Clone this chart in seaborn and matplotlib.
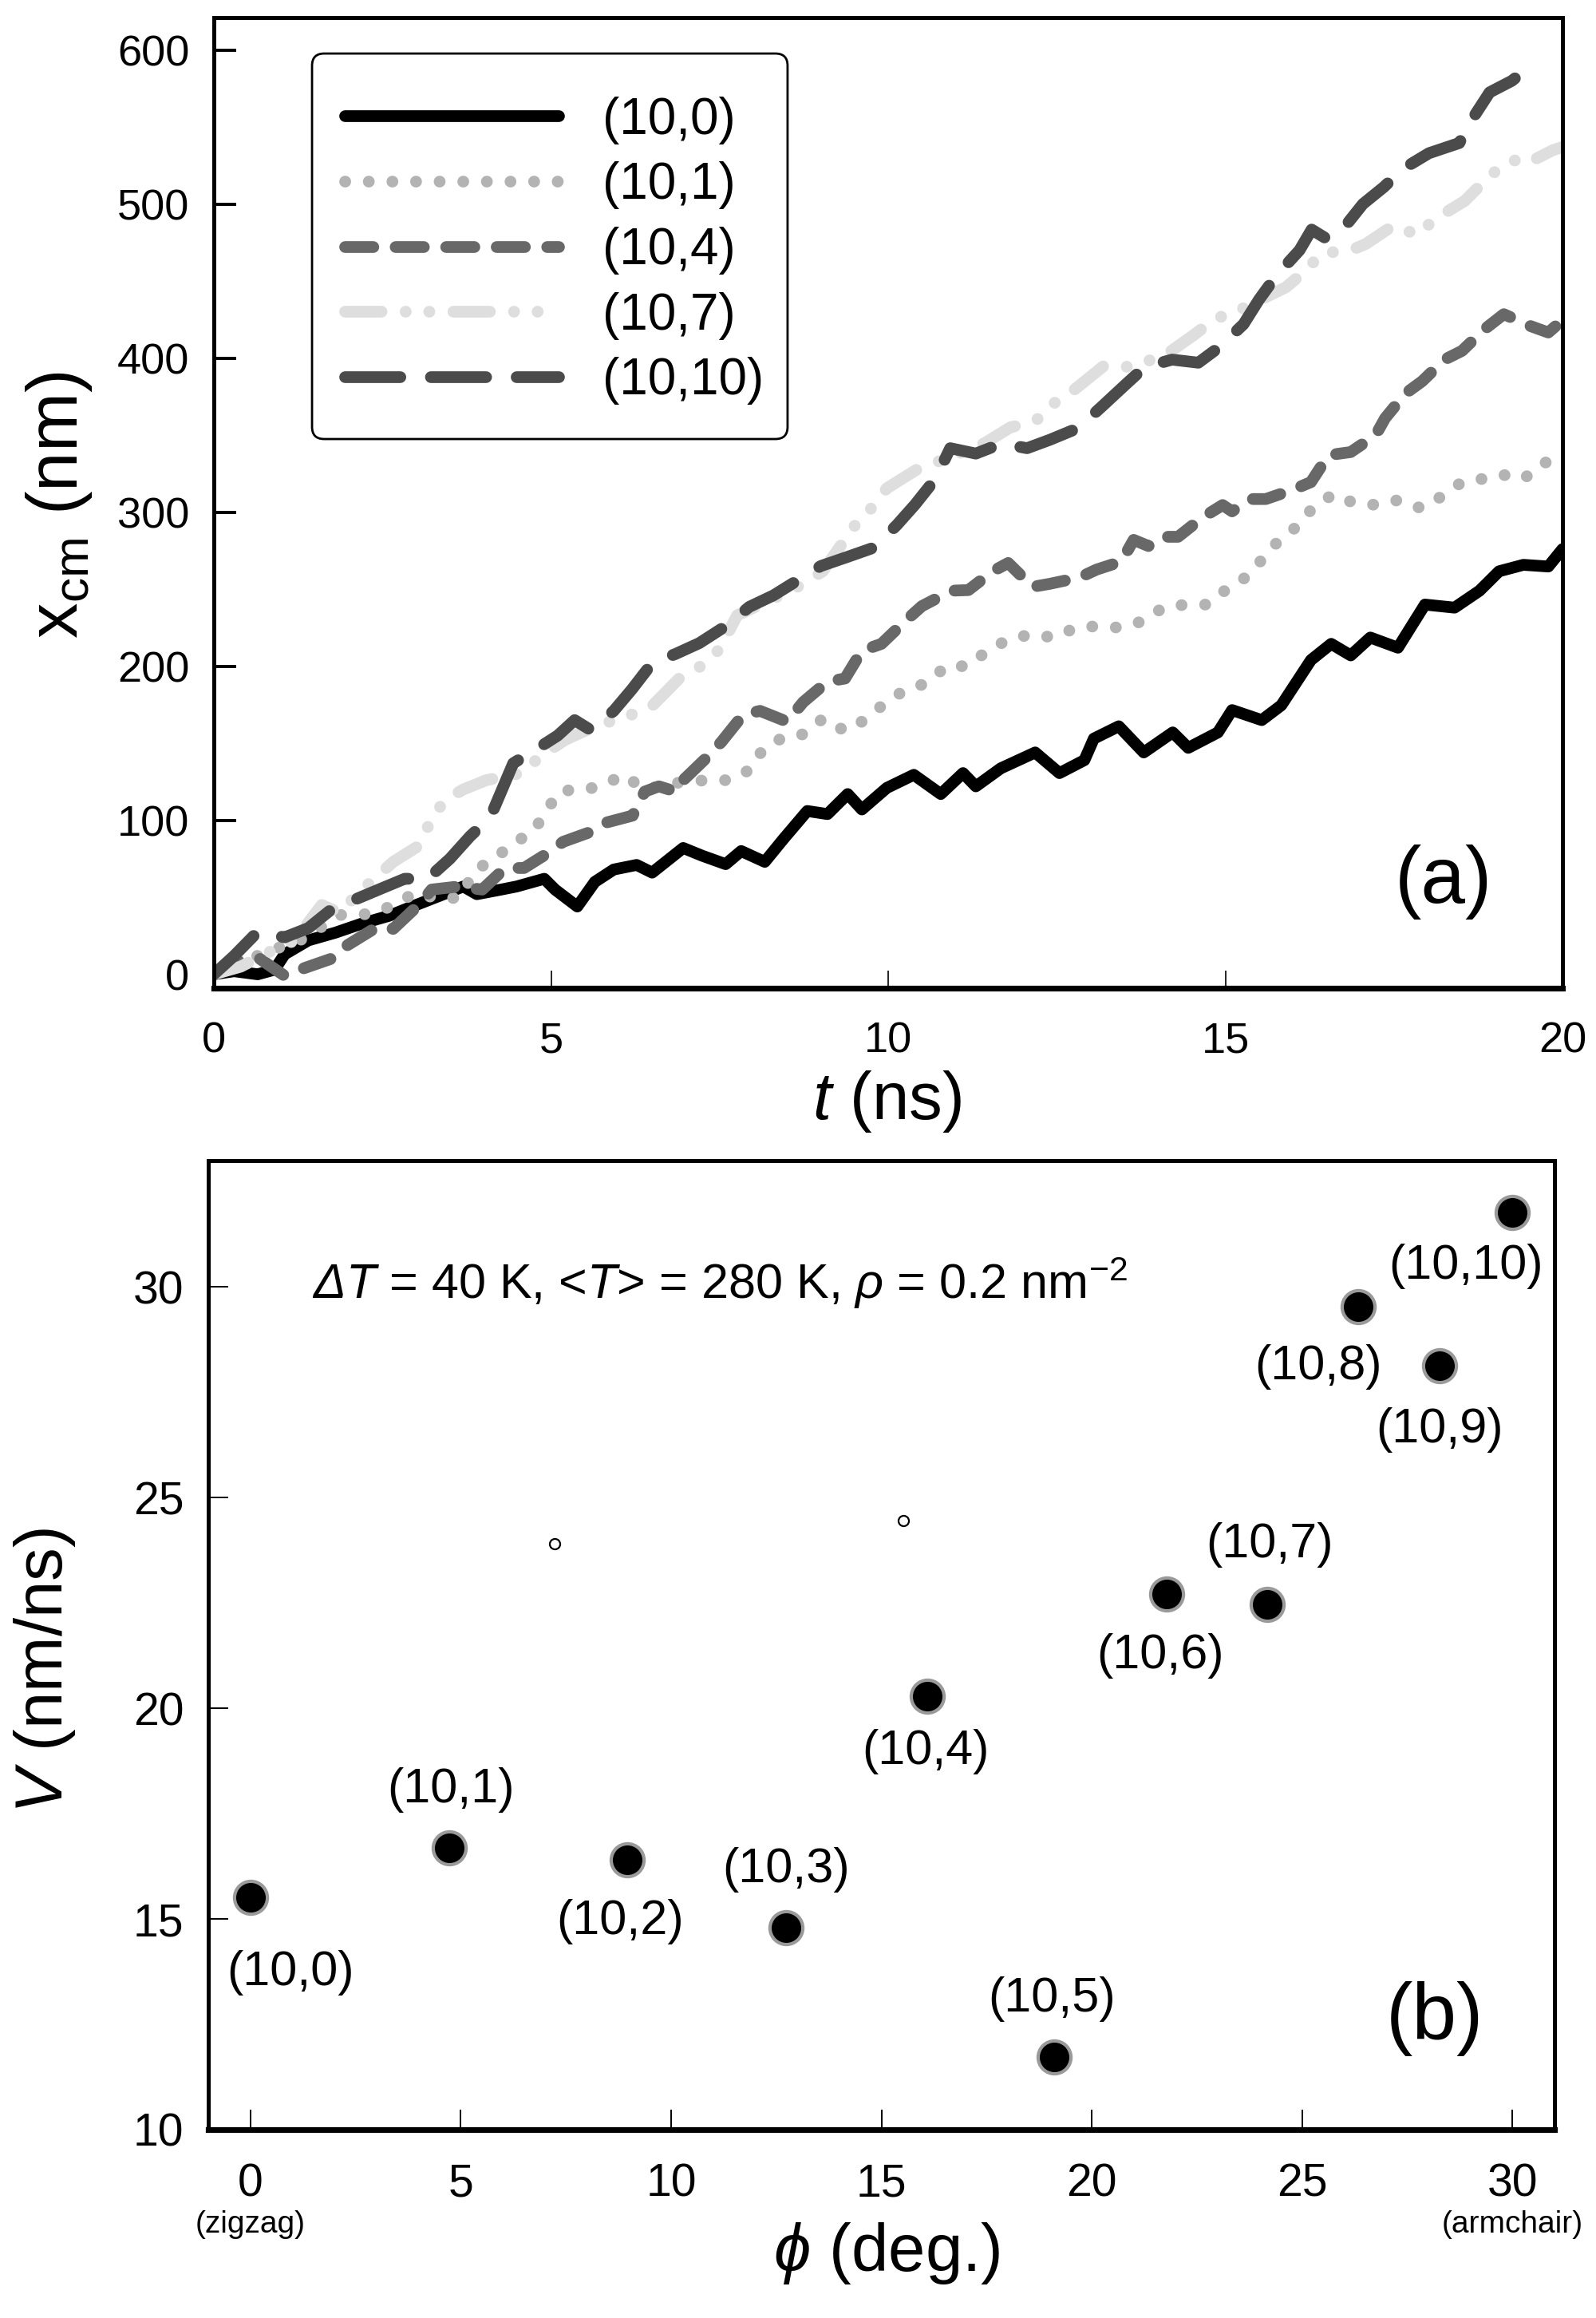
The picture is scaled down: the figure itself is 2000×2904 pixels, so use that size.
import numpy as np
import pandas as pd
import matplotlib
matplotlib.use("Agg")
import matplotlib.pyplot as plt
from matplotlib.patches import FancyBboxPatch
import seaborn as sns

# panel (a): centre-of-mass position x_cm (nm) against time t (ns)
tube_labels = ['(10,0)', '(10,1)', '(10,4)', '(10,7)', '(10,10)']

t_100 = [0, 0.3, 0.65, 0.9, 1.05, 1.4, 1.8, 2.2, 2.6, 3.0, 3.35, 3.7, 3.9, 4.26, 4.49, 4.9, 5.06,
         5.39, 5.65, 5.93, 6.27, 6.5, 6.96, 7.24, 7.59, 7.82, 8.17, 8.45, 8.8, 9.1, 9.4, 9.61,
         9.98, 10.38, 10.78, 11.11, 11.3, 11.67, 12.18, 12.54, 12.91, 13.05, 13.42, 13.79, 14.22,
         14.45, 14.89, 15.1, 15.54, 15.83, 16.27, 16.57, 16.86, 17.15, 17.56, 17.96, 18.4, 18.77,
         19.06, 19.42, 19.79, 20.0]
x_100 = [0, 2, 0, 3, 13, 22, 27, 33, 38, 45, 51, 57, 52, 55, 57, 62, 55,
         44, 60, 68, 71, 66, 82, 77, 71.5, 80, 73, 88, 106, 104, 117, 107,
         121, 129.5, 117, 130.6, 122, 133.7, 144, 130.6, 139, 153, 161, 144, 157,
         147, 157, 171.5, 165, 174.6, 204, 214.5, 207, 218.6, 212, 240, 238, 249,
         261.6, 265.8, 264.7, 276]

t_101 = [0, 0.4, 0.77, 1.2, 1.5, 1.86, 2.14, 2.43, 3.0, 3.35, 3.66, 3.86, 4.18, 4.44, 4.75, 4.92,
         5.15, 5.47, 5.79, 6.07, 6.39, 6.8, 7.3, 7.65, 7.96, 8.14, 8.45, 8.77, 9.03, 9.36, 9.65,
         9.94, 10.23, 10.57, 10.86, 11.19, 11.48, 11.8, 12.13, 12.45, 12.78, 13.1, 13.43, 13.76,
         14.08, 14.41, 14.73, 15.02, 15.3, 15.54, 15.78, 16.07, 16.3, 16.6, 16.92, 17.24, 17.56,
         17.9, 18.18, 18.51, 18.8, 19.1, 19.42, 19.72, 20.0]
x_101 = [0, 6, 15, 20, 28, 38.5, 38.5, 40, 53, 48.7, 50, 67, 75.8, 85, 93, 106,
         119.4, 119.4, 123, 129.5, 120, 124, 126, 126, 133, 146, 154, 156, 166, 158, 165,
         175.6, 184, 189, 200, 200, 210.5, 217.6, 220.7, 218.6, 224.9, 226, 225, 229,
         238, 240, 240, 250, 257.6, 269, 281, 291, 303, 311.6, 305.7, 304.7, 307.8,
         302.6, 309.5, 319.5, 321.5, 324.4, 321.5, 332, 334]

t_104 = [0, 0.3, 0.65, 1.05, 1.34, 1.8, 1.97, 2.43, 2.66, 3.06, 3.23, 3.63, 3.98, 4.32, 4.6, 4.95,
         5.18, 5.56, 5.81, 6.21, 6.39, 6.6, 6.85, 6.96, 7.34, 7.53, 7.85, 8.1, 8.5, 8.74, 9.1,
         9.36, 9.61, 9.9, 10.27, 10.5, 10.94, 11.19, 11.55, 11.78, 12.14, 12.4, 12.84, 13.09,
         13.46, 13.64, 13.86, 14.04, 14.3, 14.66, 14.96, 15.1, 15.36, 15.6, 16.0, 16.27, 16.53,
         16.86, 17.23, 17.37, 17.67, 17.92, 18.25, 18.51, 18.84, 19.13, 19.53, 19.79, 20.0]
x_104 = [0, 8, 11, -1, 4, 11, 18.6, 31, 29.5, 46, 55, 57, 55, 69, 69, 78.6,
         86, 92, 98.4, 103, 118.6, 122, 118.6, 126, 142, 151, 168.5, 171, 164, 176.7, 190,
         192, 210, 214.5, 230, 239, 249, 249.4, 261.6, 267, 251.5, 253.5, 257.6, 262.7,
         268, 282, 278, 284, 284, 296.5, 304.6, 300.5, 308.5, 308.5, 314.5, 319.5, 337,
         339, 350, 361, 377, 385, 399, 404.7, 418.6, 428.5, 420.7, 416.6, 424.6]

t_107 = [0, 0.4, 0.8, 1.2, 1.6, 1.86, 2.2, 2.66, 3.06, 3.2, 3.42, 3.7, 4.04, 4.55, 4.85, 5.2, 5.6,
         6.0, 6.45, 6.9, 7.19, 7.5, 7.76, 8.2, 8.6, 9.03, 9.5, 9.76, 9.98, 10.42, 10.75, 11.1,
         11.44, 11.81, 12.18, 12.47, 12.69, 13.2, 13.49, 14.08, 14.52, 14.85, 15.18, 15.9, 16.17,
         16.43, 16.86, 17.08, 17.49, 17.85, 18.1, 18.55, 18.8, 19.05, 19.35, 19.5, 19.86, 20.0]
x_107 = [0, 5, 14, 22, 45, 40, 55, 73, 84, 98.5, 113, 120, 126, 130.5, 141.6, 152, 160,
         166, 172, 192, 199, 211, 233, 242, 250, 261.6, 291, 303, 315.5, 327.5, 333, 339,
         345, 355, 359, 371, 377, 395, 393.8, 401, 414.6, 425.5, 430.5, 446, 456,
         468, 470, 474, 486, 480, 490, 502, 513, 523, 529.5, 527, 535, 537]

t_1010 = [0, 0.3, 0.65, 1.05, 1.4, 1.74, 2.14, 2.5, 2.83, 3.17, 3.5, 3.8, 4.1, 4.44, 4.84, 5.1,
          5.35, 5.59, 5.93, 6.2, 6.5, 6.85, 7.2, 7.59, 7.94, 8.3, 8.63, 9.0, 9.4, 9.79, 10.13,
          10.4, 10.7, 10.92, 11.3, 11.68, 12.06, 12.4, 12.82, 13.19, 13.5, 13.8, 14.21, 14.6,
          14.92, 15.27, 15.5, 15.76, 16.1, 16.28, 16.5, 16.73, 17.04, 17.35, 17.64, 18.02,
          18.47, 18.63, 18.92, 19.25, 19.6]
x_1010 = [0, 12, 27.6, 24, 30, 42, 49.4, 56, 62, 62, 75, 89.6, 102, 137, 147.7, 155,
          165, 158.5, 171, 185, 202, 208, 215, 226, 238.5, 246, 255, 265, 271, 277, 291.7,
          305, 321.5, 341.5, 338, 344.5, 341.5, 347, 354.6, 369.4, 382, 394, 399, 397,
          407.4, 422, 438, 453.7, 470, 483.4, 477.5, 483, 500, 511, 523, 533,
          539.6, 553, 572.5, 580, 592.5]

# panel (b): velocity against chiral angle
phi_deg = [0.0, 4.72, 8.95, 12.73, 16.1, 19.1, 21.79, 24.18, 26.33, 28.26, 30.0]
velocity = [15.51, 16.69, 16.40, 14.79, 20.28, 11.72, 22.71, 22.46, 29.53, 28.13, 31.76]
point_labels = ['(10,0)', '(10,1)', '(10,2)', '(10,3)', '(10,4)', '(10,5)',
                '(10,6)', '(10,7)', '(10,8)', '(10,9)', '(10,10)']
stray_phi = [7.24, 15.52]
stray_v = [23.9, 24.45]

# label offsets (points) relative to each dot
label_offsets = [(18, -34), (1, 26), (-3, -28), (0, 26), (-1, -25), (-1, 26),
                 (-3, -28), (1, 27), (-18, -27), (0, -29), (-21, -24)]

sns.set_theme(style='ticks')
plt.rcParams['font.family'] = ['Liberation Sans', 'DejaVu Sans']
plt.rcParams['mathtext.fontset'] = 'custom'
# roman math glyphs (capital Greek) drawn slanted so the Delta comes out italic
plt.rcParams['mathtext.rm'] = 'Liberation Sans:italic'
plt.rcParams['mathtext.it'] = 'Liberation Sans:italic'
plt.rcParams['mathtext.bf'] = 'Liberation Sans:bold'
for key in ('text.color', 'axes.labelcolor', 'xtick.color', 'ytick.color', 'axes.edgecolor'):
    plt.rcParams[key] = 'black'

frames = []
for lab, tt, xx in zip(tube_labels, [t_100, t_101, t_104, t_107, t_1010],
                       [x_100, x_101, x_104, x_107, x_1010]):
    frames.append(pd.DataFrame({'t': tt, 'x': xx, 'tube': lab}))
df = pd.concat(frames, ignore_index=True)

palette = {'(10,0)': '#000000', '(10,1)': '#b3b3b3', '(10,4)': '#686868',
           '(10,7)': '#dedede', '(10,10)': '#4b4b4b'}
dashes = {'(10,0)': '', '(10,1)': (0.01, 2.0), '(10,4)': (2.4, 1.9),
          '(10,7)': (3.1, 2.05, 0.01, 2.0, 0.01, 2.05), '(10,10)': (4.7, 2.6)}

fig = plt.figure(figsize=(10, 14.52), dpi=200)
ax1 = fig.add_axes([0.134, 0.5737, 0.845, 0.4187])
ax2 = fig.add_axes([0.1305, 0.0813, 0.8435, 0.418])

sns.lineplot(data=df, x='t', y='x', hue='tube', style='tube', hue_order=tube_labels,
             style_order=tube_labels, palette=palette, dashes=dashes, estimator=None,
             sort=False, linewidth=5.3, legend=False, ax=ax1,
             dash_capstyle='round', solid_capstyle='round', solid_joinstyle='round',
             dash_joinstyle='round')

ax1.set_xlim(0, 20)
ax1.set_ylim(-9, 621)
ax1.set_xticks([0, 5, 10, 15, 20])
ax1.set_yticks([0, 100, 200, 300, 400, 500, 600])
ax1.tick_params(axis='y', direction='in', length=10, width=1.4, pad=11, labelsize=19.5)
ax1.tick_params(axis='x', direction='in', length=8, width=0.6, pad=15, labelsize=19.5)
ax1.set_xlabel(r'$t$ $\mathregular{(ns)}$', fontsize=30)
ax1.set_ylabel(r'$\mathregular{x_{cm}}$ (nm)', fontsize=32)
ax1.xaxis.set_label_coords(0.499, -0.117)
ax1.xaxis.label.set_va('center')
ax1.yaxis.set_label_coords(-0.115, 0.498)
ax1.yaxis.label.set_va('center')
ax1.text(0.912, 0.109, '(a)', transform=ax1.transAxes, fontsize=36, ha='center', va='center')

# legend entries without their own frame; the rounded box is drawn separately
leg = ax1.legend(ax1.get_lines()[:5], tube_labels, loc='upper left',
                 bbox_to_anchor=(0.097, 0.919), borderaxespad=0, fontsize=23,
                 handlelength=4.2, handletextpad=0.85, labelspacing=0.34, borderpad=0,
                 frameon=False)
box = FancyBboxPatch((0.0728, 0.5658), 0.3526, 0.3972, transform=ax1.transAxes,
                     boxstyle='round,pad=0,rounding_size=0.009', mutation_aspect=1.39,
                     facecolor='none', edgecolor='black', linewidth=1.0, zorder=5)
ax1.add_patch(box)

sns.scatterplot(x=phi_deg, y=velocity, s=220, color='black', edgecolor='#9a9a9a',
                linewidth=1.5, ax=ax2, zorder=3)
sns.scatterplot(x=stray_phi, y=stray_v, s=22, color='white', edgecolor='black',
                linewidth=0.8, ax=ax2, zorder=3)
for lab, px, py, off in zip(point_labels, phi_deg, velocity, label_offsets):
    ax2.annotate(lab, (px, py), xytext=off, textcoords='offset points',
                 ha='center', va='center', fontsize=22)

ax2.set_xlim(-1, 31)
ax2.set_ylim(10, 33)
ax2.set_xticks([0, 5, 10, 15, 20, 25, 30])
ax2.set_yticks([10, 15, 20, 25, 30])
ax2.tick_params(axis='both', direction='in', length=9, width=0.7, labelsize=20.5)
ax2.tick_params(axis='x', pad=15)
ax2.tick_params(axis='y', pad=11)
ax2.set_xlabel(r'$\phi$ (deg.)', fontsize=30)
ax2.set_ylabel('$V$ (nm/ns)', fontsize=30)
ax2.xaxis.set_label_coords(0.504, -0.128)
ax2.xaxis.label.set_va('center')
ax2.yaxis.set_label_coords(-0.1215, 0.474)
ax2.yaxis.label.set_va('center')
ax2.text(1.47, 30.1,
         r'$\Delta T$ = 40 K, <$T$> = 280 K, $\rho$ = 0.2 nm$^{\mathregular{-2}}$',
         fontsize=22, ha='left', va='center')
ax2.text(0.911, 0.1145, '(b)', transform=ax2.transAxes, fontsize=36, ha='center', va='center')
ax2.annotate('(zigzag)', (0, 0), xycoords=('data', 'axes fraction'), xytext=(0, -43),
             textcoords='offset points', ha='center', va='center', fontsize=14)
ax2.annotate('(armchair)', (30, 0), xycoords=('data', 'axes fraction'), xytext=(0, -43),
             textcoords='offset points', ha='center', va='center', fontsize=14)

for ax in (ax1, ax2):
    for side in ('left', 'right', 'top'):
        ax.spines[side].set_visible(True)
        ax.spines[side].set_linewidth(1.8)
        ax.spines[side].set_color('black')
    ax.spines['bottom'].set_linewidth(2.6)
    ax.spines['bottom'].set_color('black')

fig.savefig('out.png', dpi=200, facecolor='white')
